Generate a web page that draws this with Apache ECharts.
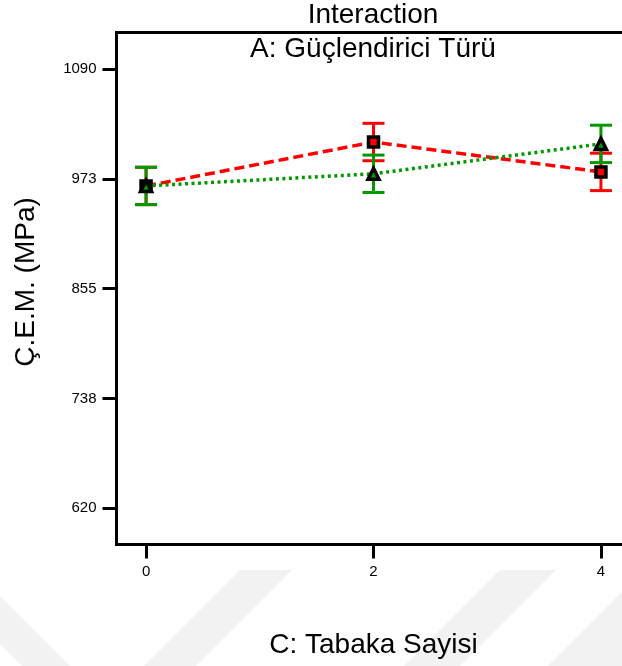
<!DOCTYPE html>
<html>
<head>
<meta charset="utf-8">
<title>Interaction</title>
<script src="https://cdn.jsdelivr.net/npm/echarts@6/dist/echarts.min.js"></script>
<style>
  html, body { margin: 0; padding: 0; background: #ffffff; }
  #chart { width: 622px; height: 666px; }
</style>
</head>
<body>
<div id="chart"></div>
<script>
// C: Tabaka Sayisi (number of layers)
const layers = [0, 2, 4];
// Mean Ç.E.M. (MPa) for the two reinforcement types (factor A)
const seriesRed = [965, 1012, 980];
const seriesGreen = [965, 978, 1010];
// Half-width of the LSD error bars (MPa)
const lsdRed = [20, 20, 20];
const lsdGreen = [20, 20, 20];
// Y tick positions; labels are shown rounded
const yTicks = [620, 737.5, 855, 972.5, 1090];
const xTicks = [0, 2, 4];

const FONT = '"Liberation Sans", Arial, Helvetica, sans-serif';
const RED = '#ff0000';
const GREEN = '#009900';

function errorBars(values, half, color, z) {
  return {
    type: 'custom',
    z: z,
    silent: true,
    data: layers.map((x, i) => [x, values[i] - half[i], values[i] + half[i]]),
    encode: { x: 0, y: [1, 2] },
    renderItem: function (params, api) {
      const x = api.value(0);
      const lo = api.coord([x, api.value(1)]);
      const hi = api.coord([x, api.value(2)]);
      const w = 11;
      const style = { stroke: color, lineWidth: 3, fill: null };
      return {
        type: 'group',
        children: [
          { type: 'line', shape: { x1: hi[0], y1: hi[1], x2: lo[0], y2: lo[1] }, style: style },
          { type: 'line', shape: { x1: hi[0] - w, y1: hi[1], x2: hi[0] + w, y2: hi[1] }, style: style },
          { type: 'line', shape: { x1: lo[0] - w, y1: lo[1], x2: lo[0] + w, y2: lo[1] }, style: style }
        ]
      };
    }
  };
}

// faint diagonal background bands
const bandFill = '#f2f2f2';
const bands = [
  [[240, 570], [292, 570], [196, 666], [144, 666]],
  [[500, 570], [556, 570], [460, 666], [404, 666]],
  [[622, 592], [622, 666], [548, 666]],
  [[0, 596], [70, 666], [22, 666], [0, 644]]
].map(pts => ({
  type: 'polygon', z: -10, silent: true,
  shape: { points: pts },
  style: { fill: bandFill }
}));

const chart = echarts.init(document.getElementById('chart'), null, { renderer: 'canvas' });

chart.setOption({
  animation: false,
  backgroundColor: '#ffffff',
  grid: {
    left: 116.5, right: -8.5, top: 32.5, bottom: 121.5,
    show: true, borderColor: '#000000', borderWidth: 3,
    backgroundColor: 'transparent',
    outerBoundsMode: 'none', containLabel: false
  },
  xAxis: {
    type: 'value',
    min: -0.26, max: 4.26,
    name: 'C: Tabaka Sayisi',
    nameLocation: 'middle',
    nameGap: 87,
    nameTextStyle: { fontSize: 28, color: '#000', fontFamily: FONT },
    axisLine: { show: true, onZero: false, lineStyle: { color: '#000', width: 3 } },
    axisTick: { show: true, customValues: xTicks, length: 14, inside: false,
                lineStyle: { color: '#000', width: 3 } },
    axisLabel: { show: true, customValues: xTicks, margin: 20, fontSize: 15,
                 color: '#000', fontFamily: FONT },
    splitLine: { show: false }
  },
  yAxis: {
    type: 'value',
    min: 581.3, max: 1129.2,
    axisLine: { show: true, onZero: false, lineStyle: { color: '#000', width: 3 } },
    axisTick: { show: true, customValues: yTicks, length: 14, inside: false,
                lineStyle: { color: '#000', width: 3 } },
    axisLabel: { show: true, customValues: yTicks, margin: 20, fontSize: 15,
                 color: '#000', fontFamily: FONT,
                 formatter: v => String(Math.round(v)) },
    splitLine: { show: false }
  },
  graphic: {
    elements: bands.concat([
      { type: 'text', x: 373, y: 15, z: 10,
        style: { text: 'Interaction', font: '28px ' + FONT, fill: '#000',
                 align: 'center', verticalAlign: 'middle' } },
      { type: 'text', x: 373, y: 49, z: 10,
        style: { text: 'A: Güçlendirici Türü', font: '28px ' + FONT, fill: '#000',
                 align: 'center', verticalAlign: 'middle' } },
      { type: 'text', x: 26, y: 282, rotation: Math.PI / 2, z: 10,
        style: { text: 'Ç.E.M. (MPa)', font: '28px ' + FONT, fill: '#000',
                 align: 'center', verticalAlign: 'middle' } }
    ])
  },
  series: [
    errorBars(seriesRed, lsdRed, RED, 3),
    errorBars(seriesGreen, lsdGreen, GREEN, 4),
    {
      name: 'A1', type: 'line', z: 5,
      data: layers.map((x, i) => [x, seriesRed[i]]),
      symbol: 'rect', symbolSize: 10,
      itemStyle: { color: RED, borderColor: '#000', borderWidth: 3.5 },
      lineStyle: { color: RED, width: 3.5, type: [10, 5] },
      emphasis: { disabled: true }
    },
    {
      name: 'A2', type: 'line', z: 6,
      data: layers.map((x, i) => [x, seriesGreen[i]]),
      symbol: 'triangle', symbolSize: 11,
      itemStyle: { color: GREEN, borderColor: '#000', borderWidth: 3.5 },
      lineStyle: { color: GREEN, width: 3.5, type: [3, 3.5] },
      emphasis: { disabled: true }
    }
  ]
});
</script>
</body>
</html>
